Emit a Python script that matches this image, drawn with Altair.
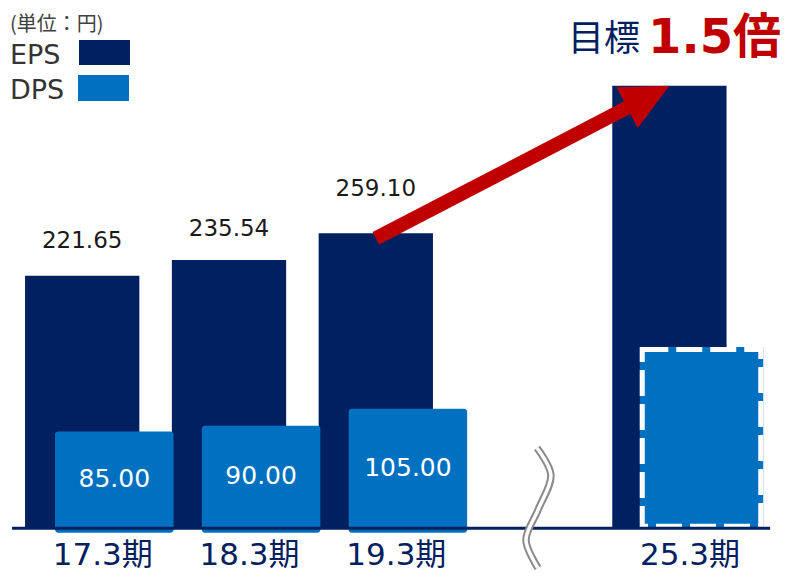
import math
import altair as alt
import pandas as pd

# ---------------- data ----------------
PERIODS = ["17.3期", "18.3期", "19.3期", "25.3期"]
EPS = [221.65, 235.54, 259.10, 388.65]
DPS = [85.00, 90.00, 105.00, 157.0]
EPS_LABELS = ["221.65", "235.54", "259.10", ""]
DPS_LABELS = ["85.00", "90.00", "105.00", ""]
IS_TARGET = [False, False, False, True]
BREAK_BEFORE = "25.3期"
SERIES = ["EPS", "DPS"]
UNIT_TEXT = "(単位：円)"
TITLE_MAIN = "目標"
TITLE_MULT = "1.5倍"

# ---------------- style ----------------
NAVY = "#002060"
BLUE = "#0070C0"
RED = "#C00000"
GRAY = "#8a8a8a"
LATIN = "DejaVu Sans, Noto Sans CJK JP"
CJK = "Noto Sans CJK JP, DejaVu Sans"

W, H = 782, 566
SLOT_PX = 146.8
PX_PER_UNIT = 1.139
X_DOMAIN = [-0.50545, -0.50545 + W / SLOT_PX]
Y_DOMAIN = [(520.3 - H) / PX_PER_UNIT, 520.3 / PX_PER_UNIT]

EPS_HALF = 57.15 / SLOT_PX
DPS_LEFT = -27.15 / SLOT_PX
DPS_RIGHT = 91.35 / SLOT_PX
DPS_SINK = -3.9            # DPS bars dip slightly below the axis line
TARGET_BOTTOM = 1.8
EPS_LABEL_LIFT = [28, 24, 37, 0]   # px gap between bar top and label baseline
LABEL_SHIFT = 0.14                  # x-label centre offset (slots)
AXIS_FROM, AXIS_TO = -0.478, 4.686

# break-mark decoration (offsets from the empty slot)
WAVE_DX = [0.098, 0.193, 0.105, 0.023, 0.105]
WAVE_Y = [70.5, 46.8, 16.1, -10.2, -34.9]

xs = alt.Scale(domain=X_DOMAIN, nice=False, zero=False)
ys = alt.Scale(domain=Y_DOMAIN, nice=False, zero=False)

# slot positions (one empty slot inserted for the time break)
slots, k = [], 0
for p in PERIODS:
    if p == BREAK_BEFORE:
        k += 1
    slots.append(k)
    k += 1
break_slot = slots[PERIODS.index(BREAK_BEFORE)] - 1

df = pd.DataFrame({
    "period": PERIODS, "slot": slots, "eps": EPS, "dps": DPS,
    "eps_label": EPS_LABELS, "dps_label": DPS_LABELS, "target": IS_TARGET,
    "lift": EPS_LABEL_LIFT,
})
df["base"] = 0.0
df["eps_l"] = df.slot - EPS_HALF
df["eps_r"] = df.slot + EPS_HALF
df["dps_l"] = df.slot + DPS_LEFT
df["dps_r"] = df.slot + DPS_RIGHT
df["dps_c"] = (df.dps_l + df.dps_r) / 2
df["dps_base"] = [TARGET_BOTTOM if t else DPS_SINK for t in IS_TARGET]
df["dps_mid"] = df.dps / 2
df["eps_ly"] = df.eps + df.lift / PX_PER_UNIT
df["lab_x"] = df.slot + LABEL_SHIFT

def X(f):
    return alt.X(f, scale=xs, axis=None)

def Y(f):
    return alt.Y(f, scale=ys, axis=None)

base = alt.Chart(df)

eps_bars = base.mark_bar(color=NAVY).encode(
    x=X("eps_l:Q"), x2="eps_r:Q", y=Y("eps:Q"), y2="base:Q")

actual = base.transform_filter("!datum.target")
target = base.transform_filter("datum.target")

dps_bars = actual.mark_bar(color=BLUE, cornerRadius=3).encode(
    x=X("dps_l:Q"), x2="dps_r:Q", y=Y("dps:Q"), y2="dps_base:Q")

dps_target_fill = target.mark_bar(color=BLUE, stroke=BLUE, strokeWidth=5).encode(
    x=X("dps_l:Q"), x2="dps_r:Q", y=Y("dps:Q"), y2="dps_base:Q")
dps_target_dash = target.mark_bar(fillOpacity=0, stroke="white", strokeWidth=5,
                                  strokeDash=[26, 8]).encode(
    x=X("dps_l:Q"), x2="dps_r:Q", y=Y("dps:Q"), y2="dps_base:Q")

axis_df = pd.DataFrame({"x": [AXIS_FROM], "x2": [AXIS_TO], "y": [0.0]})
axis_line = alt.Chart(axis_df).mark_rule(color=NAVY, strokeWidth=3).encode(
    x=X("x:Q"), x2="x2:Q", y=Y("y:Q"))

wave_df = pd.DataFrame({"x": [break_slot + d for d in WAVE_DX], "y": WAVE_Y,
                        "k": list(range(len(WAVE_Y)))})
wave_outer = alt.Chart(wave_df).mark_line(color=GRAY, strokeWidth=7.5,
                                          interpolate="catmull-rom").encode(
    x=X("x:Q"), y=Y("y:Q"), order="k:Q")
wave_inner = alt.Chart(wave_df).mark_line(color="white", strokeWidth=3.5,
                                          interpolate="catmull-rom").encode(
    x=X("x:Q"), y=Y("y:Q"), order="k:Q")

eps_text = base.mark_text(font=LATIN, fontSize=23, color="#1a1a1a",
                          baseline="alphabetic", align="center").encode(
    x=X("slot:Q"), y=Y("eps_ly:Q"), text="eps_label:N")

dps_text = actual.mark_text(font=LATIN, fontSize=25, color="white",
                            baseline="alphabetic", align="center", dy=7).encode(
    x=X("dps_c:Q"), y=Y("dps_mid:Q"), text="dps_label:N")

x_labels = base.mark_text(font=LATIN, fontSize=31, color=NAVY,
                          baseline="alphabetic", align="center", dy=37).encode(
    x=X("lab_x:Q"), y=Y("base:Q"), text="period:N")

# growth arrow: from the 19.3 EPS top to the 25.3 target EPS top
i0 = PERIODS.index("19.3期")
i1 = PERIODS.index(BREAK_BEFORE)
sx, sy = slots[i0], EPS[i0] - 4.5
tx, ty = slots[i1], EPS[i1]
frac = 0.87
arrow_df = pd.DataFrame({"x": [sx, sx + frac * (tx - sx)],
                         "y": [sy, sy + frac * (ty - sy)], "k": [0, 1]})
arrow_line = alt.Chart(arrow_df).mark_line(color=RED, strokeWidth=14,
                                           strokeCap="butt").encode(
    x=X("x:Q"), y=Y("y:Q"), order="k:Q")
angle = math.degrees(math.atan2((tx - sx) * SLOT_PX, (ty - sy) * PX_PER_UNIT))
head_df = pd.DataFrame({"x": [tx], "y": [ty]})
arrow_head = alt.Chart(head_df).mark_point(
    shape="M0,0 L-0.96,2 L0.96,2 Z", size=2266, angle=round(angle, 1),
    filled=True, color=RED, opacity=1, strokeWidth=0).encode(
    x=X("x:Q"), y=Y("y:Q"))

def txt(text, x, y, size, color, font, weight="normal"):
    return alt.Chart(pd.DataFrame({"t": [text]})).mark_text(
        align="left", baseline="alphabetic", fontSize=size, color=color,
        font=font, fontWeight=weight).encode(
        x=alt.value(x), y=alt.value(y), text="t:N")

def swatch(color, x, x2, y, y2):
    return alt.Chart(pd.DataFrame({"s": [0]})).mark_rect(color=color).encode(
        x=alt.value(x), x2=alt.value(x2), y=alt.value(y), y2=alt.value(y2))

unit = txt(UNIT_TEXT, 2, 23, 20, "#404040", CJK)
leg_eps = txt(SERIES[0], 2, 56, 27, "#333333", LATIN)
leg_dps = txt(SERIES[1], 2, 91, 27, "#333333", LATIN)
sw_eps = swatch(NAVY, 71, 122, 32, 57)
sw_dps = swatch(BLUE, 70, 121, 67, 93)
title_a = txt(TITLE_MAIN, 560, 43, 36, NAVY, CJK)
title_b = txt(TITLE_MULT, 640, 45, 48, RED, LATIN, "bold")

chart = alt.layer(
    eps_bars, dps_bars, dps_target_fill, dps_target_dash, axis_line,
    wave_outer, wave_inner, eps_text, dps_text, x_labels,
    arrow_line, arrow_head,
    unit, leg_eps, leg_dps, sw_eps, sw_dps, title_a, title_b,
).properties(
    width=W, height=H, padding=0,
    autosize=alt.AutoSizeParams(type="none"), background="white",
).configure_view(stroke=None)

chart.save("out.html", embed_options={"renderer": "svg", "actions": False})
